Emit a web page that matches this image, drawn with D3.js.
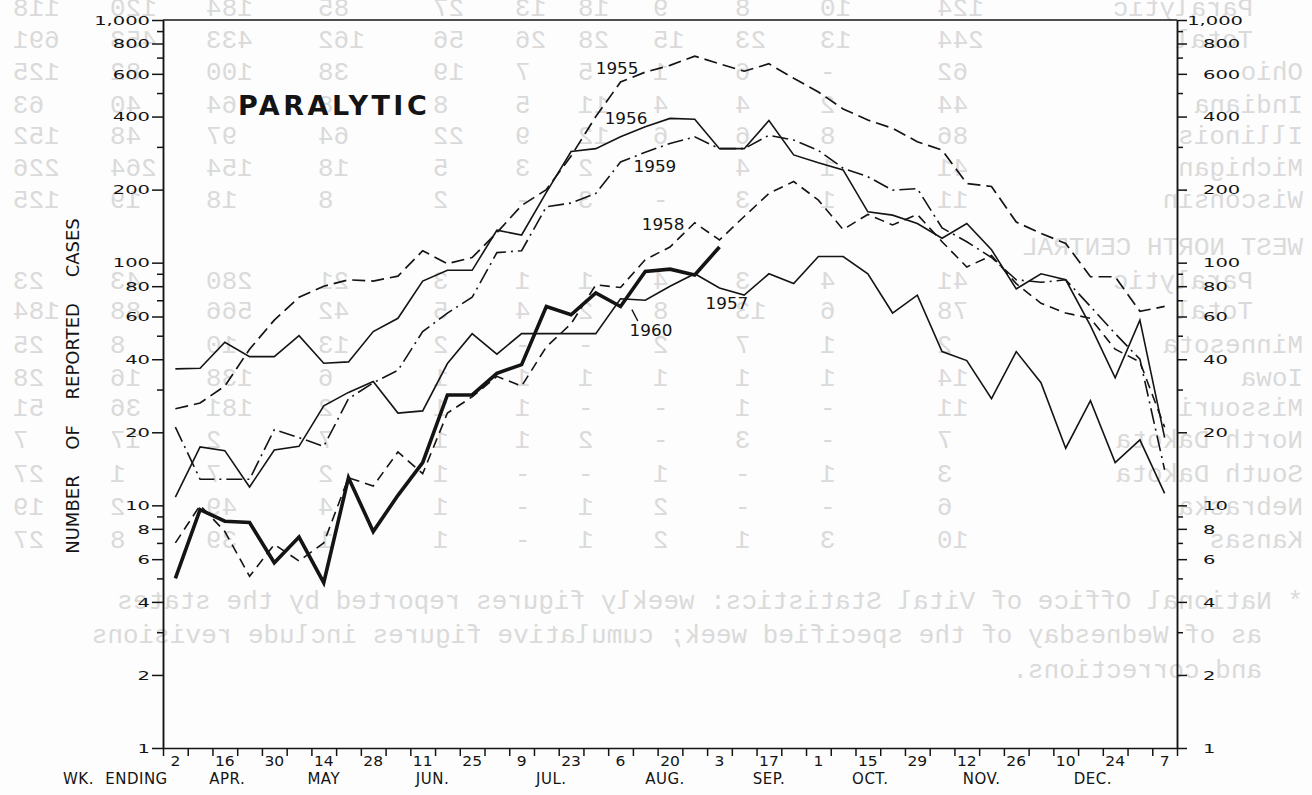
<!DOCTYPE html>
<html>
<head>
<meta charset="utf-8">
<script src="https://cdn.jsdelivr.net/npm/d3@7"></script>
<style>
  body { margin: 0; background: #fff; }
  svg { display: block; font-family: "DejaVu Sans", sans-serif; }
</style>
</head>
<body>
<svg id="chart" width="1312" height="795"></svg>
<script>
// week ending dates, Apr 2 through Jan 7
const weekDays = [2,9,16,23,30,7,14,21,28,4,11,18,25,2,9,16,23,30,6,13,20,27,3,10,17,24,1,8,15,22,29,5,12,19,26,3,10,17,24,31,7]
const months = ["APR.","MAY","JUN.","JUL.","AUG.","SEP.","OCT.","NOV.","DEC."]
const monthWeek = [2.1, 6, 10.4, 15.2, 19.8, 24, 28.1, 32.6, 37.1]

// weekly paralytic cases
const cases1955 = [25,26.4,31,44,58,72,80,85,84,88,112,99,105,133,172,200,275,400,555,610,650,710,660,615,660,575,505,430,387,358,315,291,212,206,147,132,120,87.5,87.5,63,66]
const cases1956 = [36.5,36.7,47,41,41,50,38.5,39,52,59,84,93,93,136,130,195,287,295,330,363,393,390,295,295,385,278,258,241,162,157,145,126,145,113,78,90,85,55,33.5,58,19]
const cases1957 = [10.8,17.4,16.8,11.9,16.9,17.5,25.7,29.2,32.4,24,24.5,38.4,51,42,51,51,51,51,71,70,80,90,78.6,73.5,90,82,106,106,90,62,73.5,43,39.5,27.5,43,32,17.2,27,15,18.6,11.2]
const cases1958 = [7,10,7.8,5.1,6.9,5.9,7,13,12,16.6,13.5,24,28,34,31,45,56,81,79,103,116,146,124,155,193,216,181,137,158,143,158,122,96,107,82,68,62,59,44,39,21]
const cases1959 = [21,12.8,12.8,12.8,20.5,19,17.5,27.5,32,36,52,62,72,110,112,170,176,193,260,285,310,330,295,295,335,320,290,245,226,199,202,139,122,105,85,83,85,66,51,40,14]
const cases1960 = [5,9.6,8.6,8.5,5.8,7.4,4.8,13,7.8,11,15,28.5,28.5,35,38,66,61,75,66,92,94,89,116]

const years = ["1955","1956","1957","1958","1959","1960"]
const series = [cases1955, cases1956, cases1957, cases1958, cases1959, cases1960]
// where each year label sits (week index, cases)
const labelWeek = [17.86, 18.22, 22.3, 19.72, 19.39, 19.23]
const labelValue = [634, 391, 67.6, 144, 250, 52.3]

const yLabels = [1,2,4,6,8,10,20,40,60,80,100,200,400,600,800,1000]
const yMinor = [3,5,7,9,30,50,70,90,300,500,700,900]

// show-through from the back of the sheet (mirrored typewriter table)
const ghostNames = ["Paralytic","Total","Ohio","Indiana","Illinois","Michigan","Wisconsin","WEST NORTH CENTRAL","Paralytic","Total","Minnesota","Iowa","Missouri","North Dakota","South Dakota","Nebraska","Kansas"]
const ghostNumbers = [
  ["118","120","184","85","27","13","18","9","8","10","124"],
  ["691","453","433","162","56","26","28","15","23","13","244"],
  ["125","82","100","38","19","7","5","1","6","-","62"],
  ["63","40","64","8","8","5","11","4","4","2","44"],
  ["152","48","97","64","22","9","12","6","6","8","86"],
  ["226","264","154","18","5","3","2","-","4","1","41"],
  ["125","19","18","8","2","-","3","-","3","1","11"],
  [],
  ["23","43","280","21","3","1","1","4","3","4","41"],
  ["184","88","566","42","5","4","2","8","13","6","78"],
  ["25","8","10","13","2","-","-","2","7","1","2"],
  ["28","16","138","6","1","1","1","1","1","1","14"],
  ["51","36","181","2","1","1","-","-","1","-","11"],
  ["7","17","2","7","1","1","2","-","3","-","7"],
  ["27","1","7","2","1","-","-","1","-","1","3"],
  ["19","2","49","4","1","-","1","2","-","-","6"],
  ["27","8","39","1","1","-","1","2","1","3","10"]
]
const ghostNote = ["* National Office of Vital Statistics:  weekly figures reported by the states",
                   "as of Wednesday of the specified week; cumulative figures include revisions",
                   "and corrections."]

const W = 1312
const plotLeft = 163, plotRight = 1177, plotTop = 20, plotBottom = 748
const ink = "#141414"

const svg = d3.select("#chart")
svg.append("rect").attr("width", W).attr("height", 795).attr("fill", "#fdfdfd")

// ---- faint mirrored show-through ----
const ghostRowY = [8,40,72,105,136,168,200,247,281,311,345,378,408,440,474,507,540]
const ghostColX = [13,110,206,318,433,515,578,653,735,820,937]
const ghost = svg.append("g")
    .attr("fill", "#dadada")
    .attr("font-family", "'Liberation Mono', 'DejaVu Sans Mono', monospace")
    .attr("font-size", 26)

ghostNames.forEach((name, i) => {
    const indent = (name === "Paralytic" || name === "Total") ? 50 : 0
    ghost.append("text")
        .attr("transform", `translate(${1303 - indent},${ghostRowY[i] + 8}) scale(-1,1)`)
        .attr("text-anchor", "start")
        .text(name)
})
ghostNumbers.forEach((row, i) => {
    row.forEach((num, j) => {
        ghost.append("text")
            .attr("transform", `translate(${ghostColX[j]},${ghostRowY[i] + 8}) scale(-1,1)`)
            .attr("text-anchor", "end")
            .text(num)
    })
})
const noteRight = [1303, 1262, 1262]
const noteY = [609, 643, 678]
ghostNote.forEach((line, i) => {
    ghost.append("text")
        .attr("transform", `translate(${noteRight[i]},${noteY[i]}) scale(-1,1)`)
        .attr("text-anchor", "start")
        .text(line)
})

// ---- scales ----
const x = d3.scaleLinear().domain([-0.5, 40.5]).range([plotLeft, plotRight])
const y = d3.scaleLog().domain([1, 1000]).range([plotBottom, plotTop])

// ---- axes ----
function axisStyle(g) {
    g.selectAll("path, line").attr("stroke", ink).attr("stroke-width", 1.5)
    g.selectAll("text").remove()
}
svg.append("g").attr("transform", `translate(${plotLeft},0)`)
    .call(d3.axisLeft(y).tickValues(yLabels).tickSize(11).tickSizeOuter(0).tickFormat(""))
    .call(axisStyle)
svg.append("g").attr("transform", `translate(${plotLeft},0)`)
    .call(d3.axisLeft(y).tickValues(yMinor).tickSize(6).tickSizeOuter(0).tickFormat(""))
    .call(axisStyle)
svg.append("g").attr("transform", `translate(${plotRight},0)`)
    .call(d3.axisRight(y).tickValues(yLabels).tickSize(10).tickSizeOuter(0).tickFormat(""))
    .call(axisStyle)
svg.append("g").attr("transform", `translate(${plotRight},0)`)
    .call(d3.axisRight(y).tickValues(yMinor).tickSize(6).tickSizeOuter(0).tickFormat(""))
    .call(axisStyle)
svg.append("g").attr("transform", `translate(0,${plotBottom})`)
    .call(d3.axisBottom(x).tickValues(d3.range(-0.5, 41, 1)).tickSize(8).tickSizeOuter(0).tickFormat(""))
    .call(axisStyle)
svg.append("line")
    .attr("x1", x(-0.5)).attr("x2", x(40.5)).attr("y1", y(1000)).attr("y2", y(1000))
    .attr("stroke", ink).attr("stroke-width", 1.5)

// stretched lettering for numbers
function stretched(g, tx, ty, str, anchor, size, sx) {
    return g.append("text")
        .attr("transform", `translate(${tx},${ty}) scale(${sx},1)`)
        .attr("text-anchor", anchor)
        .attr("font-size", size)
        .attr("fill", ink)
        .text(str)
}
const fmt = v => v === 1000 ? "1,000" : String(v)
const labels = svg.append("g")
yLabels.forEach(v => {
    stretched(labels, plotLeft - 13, y(v) + 4.7, fmt(v), "end", 13, 1.5)
    if (v === 1000) stretched(labels, 1243, y(v) + 4.7, fmt(v), "end", 13, 1.5)
    else stretched(labels, 1203, y(v) + 4.7, fmt(v), "start", 13, 1.5)
})
weekDays.forEach((d, k) => {
    if (k % 2 === 0) stretched(labels, x(k), 766, d, "middle", 13.5, 1.15)
})
months.forEach((m, i) => {
    labels.append("text")
        .attr("x", x(monthWeek[i])).attr("y", 784)
        .attr("text-anchor", "middle").attr("font-size", 15)
        .attr("letter-spacing", 0.5).attr("fill", ink)
        .text(m)
})
labels.append("text")
    .attr("x", 63).attr("y", 784).attr("font-size", 15)
    .attr("word-spacing", 6).attr("letter-spacing", 0.5).attr("fill", ink)
    .text("WK. ENDING")

labels.append("text")
    .attr("transform", "translate(79,386) rotate(-90)")
    .attr("text-anchor", "middle").attr("font-size", 18)
    .attr("word-spacing", 20).attr("fill", ink)
    .text("NUMBER OF REPORTED CASES")

labels.append("text")
    .attr("x", 238).attr("y", 115)
    .attr("font-size", 27).attr("font-weight", "bold")
    .attr("letter-spacing", 3.5).attr("fill", ink)
    .text("PARALYTIC")

// ---- lines ----
const lineStyle = {
    "1955": { dash: "13,6", width: 1.7 },
    "1956": { dash: null, width: 1.6 },
    "1957": { dash: null, width: 1.6 },
    "1958": { dash: "10,6", width: 1.6 },
    "1959": { dash: "16,5,2,5", width: 1.6 },
    "1960": { dash: null, width: 3.6 }
}
const line = d3.line().x((d, i) => x(i)).y(d => y(d))

svg.append("g").selectAll("path")
    .data(series)
    .enter()
    .append("path")
    .attr("d", line)
    .attr("fill", "none")
    .attr("stroke", ink)
    .attr("stroke-linejoin", "miter")
    .attr("stroke-width", (d, i) => lineStyle[years[i]].width)
    .attr("stroke-dasharray", (d, i) => lineStyle[years[i]].dash)

// ---- year labels ----
years.forEach((yr, i) => {
    stretched(labels, x(labelWeek[i]), y(labelValue[i]) + 5.5, yr, "middle", 15, 1.12)
})
// leader from 1960 curve to its label
svg.append("line")
    .attr("x1", x(18.46)).attr("y1", y(64))
    .attr("x2", x(18.7)).attr("y2", y(57.5))
    .attr("stroke", ink).attr("stroke-width", 1.4)
</script>
</body>
</html>
